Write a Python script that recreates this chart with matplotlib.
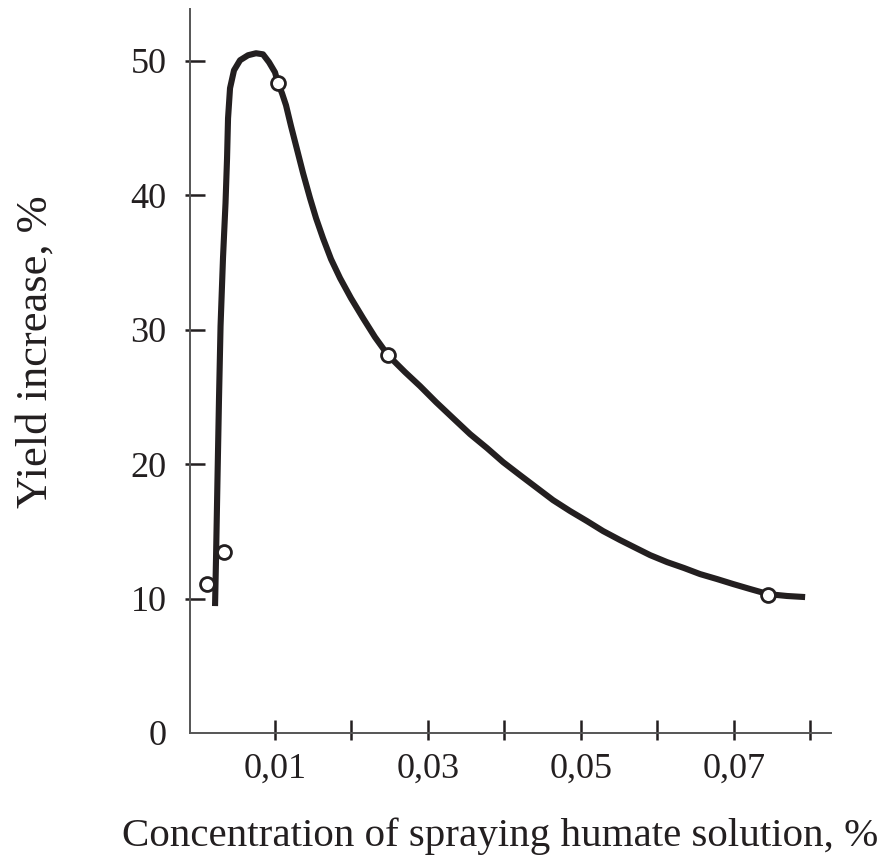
import matplotlib
matplotlib.use("Agg")
import matplotlib.pyplot as plt

# hand-drawn trend curve
curve_x = [0.00216, 0.00229, 0.00248, 0.00268, 0.00288, 0.00320, 0.00353, 0.00373,
           0.00386, 0.00412, 0.00464, 0.00543, 0.00647, 0.00752, 0.00843, 0.00922,
           0.01000, 0.01040, 0.01092, 0.01144, 0.01210, 0.01284, 0.01367, 0.01458,
           0.01537, 0.01628, 0.01733, 0.01851, 0.01994, 0.02151, 0.02308, 0.02478,
           0.02701, 0.02897, 0.03106, 0.03328, 0.03551, 0.03773, 0.03982, 0.04204,
           0.04427, 0.04636, 0.04858, 0.05080, 0.05290, 0.05512, 0.05722, 0.05905,
           0.06127, 0.06349, 0.06558, 0.06780, 0.06990, 0.07212, 0.07448, 0.07696,
           0.07932]
curve_y = [9.44, 13.01, 18.88, 24.91, 30.26, 35.32, 39.41, 42.75,
           45.72, 47.96, 49.29, 50.04, 50.41, 50.56, 50.48, 49.89,
           49.14, 48.33, 47.58, 46.69, 45.13, 43.49, 41.64, 39.78,
           38.29, 36.80, 35.24, 33.83, 32.34, 30.86, 29.44, 28.10,
           26.84, 25.80, 24.61, 23.42, 22.23, 21.19, 20.15, 19.18,
           18.22, 17.32, 16.51, 15.76, 15.02, 14.35, 13.75, 13.23,
           12.71, 12.27, 11.82, 11.45, 11.08, 10.71, 10.33, 10.19,
           10.11]

# measured points
pts_x = [0.00111, 0.00333, 0.01040, 0.02478, 0.07448]
pts_y = [11.08, 13.46, 48.33, 28.10, 10.26]

xticks = [0.01, 0.02, 0.03, 0.04, 0.05, 0.06, 0.07, 0.08]
xticklabels = ["0,01", "", "0,03", "", "0,05", "", "0,07", ""]
yticks = [0, 10, 20, 30, 40, 50]
yticklabels = ["0", "10", "20", "30", "40", "50"]

ink = "#231f20"
plt.rcParams['font.family'] = ['Liberation Serif', 'DejaVu Serif']

fig = plt.figure(figsize=(8.81, 8.58), dpi=100)
ax = fig.add_axes([0.2157, 0.1457, 0.7276, 0.8438])

ax.plot(curve_x, curve_y, color=ink, lw=4.4, solid_capstyle='butt',
        solid_joinstyle='round', zorder=2)
ax.plot(pts_x, pts_y, 'o', ms=10, mfc='white', mec=ink, mew=2, zorder=3)

ax.set_xlim(-0.00111, 0.08271)
ax.set_ylim(0, 53.85)

for s in ['top', 'right']:
    ax.spines[s].set_visible(False)
for s in ['left', 'bottom']:
    ax.spines[s].set_color('#555555')
    ax.spines[s].set_linewidth(1.4)

ax.set_xticks(xticks)
ax.set_xticklabels(xticklabels)
ax.set_yticks(yticks)
ax.set_yticklabels(yticklabels)

# ticks cross the axis lines, mostly on the inside
ax.xaxis.remove_overlapping_locs = False
ax.yaxis.remove_overlapping_locs = False
ax.set_xticks(xticks, minor=True)
ax.set_yticks(yticks[1:], minor=True)
ax.tick_params(axis='x', which='major', direction='in', length=9.5, width=1.8,
               color=ink, pad=14, labelsize=26, labelcolor=ink)
ax.tick_params(axis='x', which='minor', direction='out', length=5, width=1.8, color=ink)
ax.tick_params(axis='y', which='major', direction='in', length=11, width=1.8,
               color=ink, pad=17, labelsize=26, labelcolor=ink)
ax.tick_params(axis='y', which='minor', direction='out', length=3.6, width=1.8, color=ink)
ax.yaxis.get_major_ticks()[0].tick1line.set_visible(False)

ax.set_xlabel("Concentration of spraying humate solution, %", fontsize=29.5, color=ink)
ax.xaxis.label.set_va('bottom')
ax.xaxis.set_label_coords(0.484, -0.168)
ax.set_ylabel("Yield increase, %", fontsize=32, color=ink)
ax.yaxis.set_label_coords(-0.21, 0.526)

fig.savefig("out.png", dpi=100)
